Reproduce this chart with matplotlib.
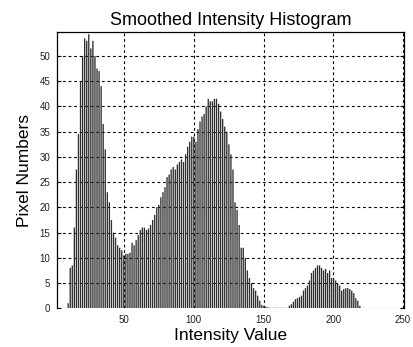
import numpy as np
import matplotlib
matplotlib.use("Agg")
import matplotlib.pyplot as plt

plt.rcParams['font.family'] = ['Liberation Sans', 'DejaVu Sans']

# Smoothed histogram counts
counts_low = [1, 8, 8.5, 16, 27.5, 34.5, 45, 50, 53.5, 53,
              54.3, 51.5, 53, 50, 47.5, 47, 44, 36.5, 31.5, 23,
              21, 17.5, 15, 14, 12.5, 12, 11.5, 10.5, 10.8, 10.8,
              11, 13, 12.5, 13.5, 14.5, 15.5, 16, 16, 15.5, 15.8,
              16.5, 17.5, 18.5, 20, 20.5, 22, 23, 24, 26, 26.5,
              27.5, 28, 27.5, 28.5, 29, 29.5, 29, 30.5, 32, 33,
              34, 34, 33, 35.5, 37, 38, 38.5, 40, 41.5, 41,
              41, 41.5, 41.5, 40.5, 39, 37.5, 36, 35, 32.5, 30.5,
              27.5, 21, 19.5, 16.5, 12, 12, 10, 7.5, 6, 5,
              4, 3.5, 2.5, 1.5, 0.7, 0.5, 0.3, 0.2,
              0.1, 0.1, 0.1, 0.1, 0.1, 0.1, 0.1, 0.1]
low_range = (10, 165)

counts_high = [0.5, 0.8, 1.3, 1.8, 2, 2.2, 2.5, 3.5, 4, 4.5,
               5.5, 7, 7.5, 8, 8.5, 8.5, 8, 7.5, 7.8, 7,
               7.5, 6, 5.8, 5.5, 5, 4.5, 3.5, 3.8, 4, 4,
               3.8, 3.5, 3, 2, 1.5, 0.5]
high_range = (168.5, 219)

xticks = [50, 100, 150, 200, 250]
yticks = [0, 5, 10, 15, 20, 25, 30, 35, 40, 45, 50]

x_low = np.linspace(low_range[0], low_range[1], len(counts_low))
x_high = np.linspace(high_range[0], high_range[1], len(counts_high))
x = np.concatenate([x_low, x_high])
y = np.array(counts_low + counts_high)

fig = plt.figure(figsize=(4.14, 3.47), dpi=100)
ax = fig.add_axes([0.1377, 0.1115, 0.977 - 0.1377, 0.9086 - 0.1115])

bars = ax.bar(x, y, width=0.95, color='#2e2e2e', edgecolor='none', zorder=3)
for b in bars:
    b.set_snap(False)

ax.set_xlim(2, 251)
ax.set_ylim(0, 54.8)
ax.set_xticks(xticks)
ax.set_yticks(yticks)
ax.tick_params(axis='both', direction='in', length=3, width=0.8,
               labelsize=7, labelcolor='#222222', top=False, right=True)
ax.tick_params(axis='x', pad=5, length=0)
ax.tick_params(axis='y', pad=5)

ax.grid(True, color='black', linestyle=(0, (2.5, 2.5)), linewidth=0.8, zorder=1)
ax.set_axisbelow(True)
for s in ['left', 'right', 'top']:
    ax.spines[s].set_linewidth(0.9)
ax.spines['bottom'].set_visible(False)

ax.set_xlabel('Intensity Value', fontsize=12.5, labelpad=2)
ax.set_ylabel('Pixel Numbers', fontsize=12.5, labelpad=5)
ax.set_title('Smoothed Intensity Histogram', fontsize=13, pad=5)

fig.savefig('out.png', dpi=100)
